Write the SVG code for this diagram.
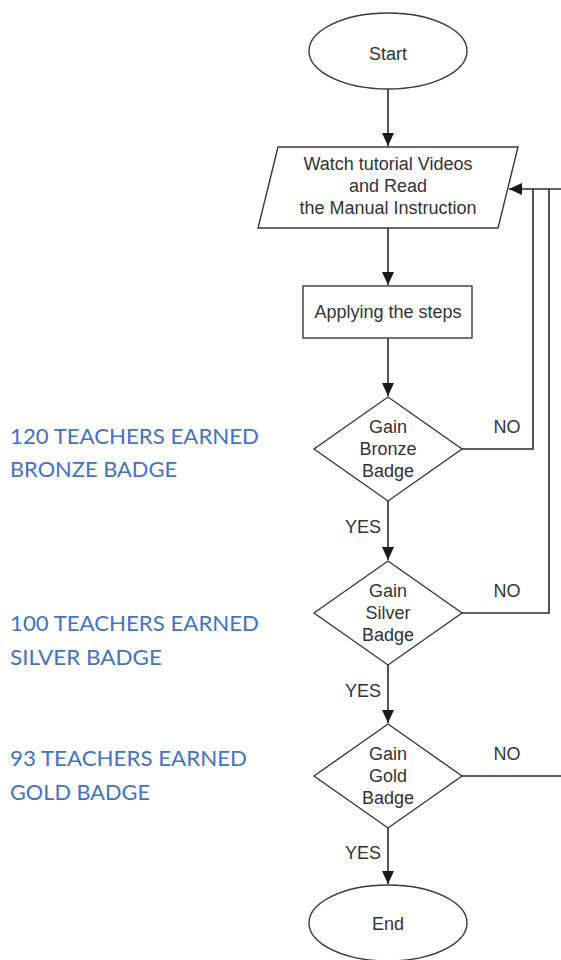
<svg xmlns="http://www.w3.org/2000/svg" width="561" height="960" viewBox="0 0 561 960">
<style>
.shape{fill:#fff;stroke:#3a3a3a;stroke-width:1.4}
.lbl{font-family:"Liberation Sans",Arial,sans-serif;font-size:18px;fill:#333;text-anchor:middle}
.edge{fill:none;stroke:#2a2a2a;stroke-width:1.6}
.side{font-family:Lato,"Open Sans",sans-serif;font-size:22px;fill:#4472C4}
</style>
<defs>
<marker id="ah" markerUnits="userSpaceOnUse" markerWidth="14" markerHeight="14" viewBox="0 0 14 12" refX="13" refY="6" orient="auto">
<path d="M0,0 L13,6 L0,12 Z" fill="#1a1a1a"/>
</marker>
</defs>
<rect width="561" height="960" fill="#fff"/>
<g id="connectors">
<path class="edge" d="M388,89 V146" marker-end="url(#ah)"/>
<path class="edge" d="M388,228 V285" marker-end="url(#ah)"/>
<path class="edge" d="M388,338 V396" marker-end="url(#ah)"/>
<path class="edge" d="M388,501 V560" marker-end="url(#ah)"/>
<path class="edge" d="M388,665 V723" marker-end="url(#ah)"/>
<path class="edge" d="M388,828 V884" marker-end="url(#ah)"/>
<path class="edge" d="M462,449 H533 V189"/>
<path class="edge" d="M462,613 H549 V189"/>
<path class="edge" d="M462,776 H566 V189"/>
<path class="edge" d="M566,189 H509" marker-end="url(#ah)"/>
<text class="lbl" x="507" y="433">NO</text>
<text class="lbl" x="507" y="597">NO</text>
<text class="lbl" x="507" y="760">NO</text>
<text class="lbl" x="363" y="533">YES</text>
<text class="lbl" x="363" y="697">YES</text>
<text class="lbl" x="363" y="859">YES</text>
</g>
<g id="start">
<ellipse class="shape" cx="388" cy="51" rx="79" ry="38"/>
<text class="lbl" x="388" y="60">Start</text>
</g>
<g id="watch">
<polygon class="shape" points="278,147 518,147 498,228 258,228"/>
<text class="lbl" x="388" y="170">Watch tutorial Videos</text>
<text class="lbl" x="388" y="192">and Read</text>
<text class="lbl" x="388" y="214">the Manual Instruction</text>
</g>
<g id="apply">
<rect class="shape" x="303" y="286" width="169" height="52"/>
<text class="lbl" x="388" y="318">Applying the steps</text>
</g>
<g id="bronze">
<polygon class="shape" points="388,397 462,449 388,501 314,449"/>
<text class="lbl" x="388" y="433">Gain</text>
<text class="lbl" x="388" y="455">Bronze</text>
<text class="lbl" x="388" y="477">Badge</text>
</g>
<g id="silver">
<polygon class="shape" points="388,561 462,613 388,665 314,613"/>
<text class="lbl" x="388" y="597">Gain</text>
<text class="lbl" x="388" y="619">Silver</text>
<text class="lbl" x="388" y="641">Badge</text>
</g>
<g id="gold">
<polygon class="shape" points="388,724 462,776 388,828 314,776"/>
<text class="lbl" x="388" y="760">Gain</text>
<text class="lbl" x="388" y="782">Gold</text>
<text class="lbl" x="388" y="804">Badge</text>
</g>
<g id="end">
<ellipse class="shape" cx="388" cy="923" rx="79" ry="38"/>
<text class="lbl" x="388" y="930">End</text>
</g>
<g id="notes">
<text class="side" x="10" y="444" textLength="249" lengthAdjust="spacingAndGlyphs">120 TEACHERS EARNED</text>
<text class="side" x="10" y="477" textLength="167" lengthAdjust="spacingAndGlyphs">BRONZE BADGE</text>
<text class="side" x="10" y="631" textLength="249" lengthAdjust="spacingAndGlyphs">100 TEACHERS EARNED</text>
<text class="side" x="10" y="665" textLength="152" lengthAdjust="spacingAndGlyphs">SILVER BADGE</text>
<text class="side" x="10" y="766" textLength="237" lengthAdjust="spacingAndGlyphs">93 TEACHERS EARNED</text>
<text class="side" x="10" y="800" textLength="140" lengthAdjust="spacingAndGlyphs">GOLD BADGE</text>
</g>
</svg>
